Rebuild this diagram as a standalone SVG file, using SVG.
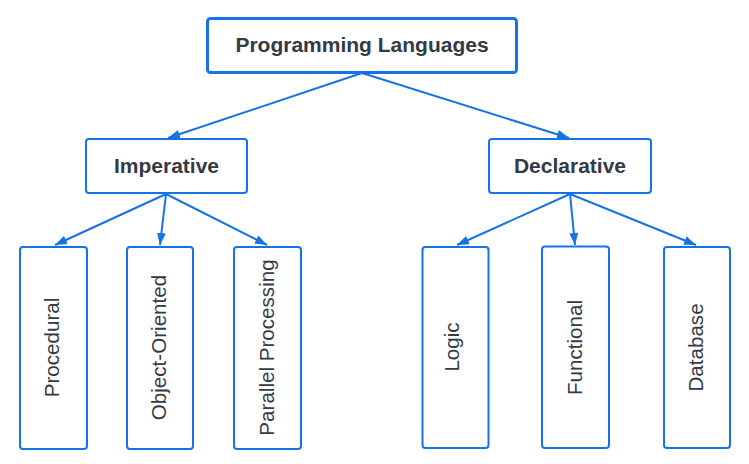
<svg xmlns="http://www.w3.org/2000/svg" width="749" height="464" viewBox="0 0 749 464">
<defs>
<marker id="ah" markerUnits="userSpaceOnUse" markerWidth="14" markerHeight="10" refX="12" refY="5" orient="auto">
<path d="M0,0.5 L12,5 L0,9.5 Z" fill="#1473e6"/>
</marker>
<style>
.box{fill:#fff;stroke:#1473e6;stroke-width:2}
.top{stroke-width:3}
.t{font-family:"Liberation Sans",Arial,sans-serif;font-size:20.6px;fill:#333a45;text-anchor:middle}
.b{font-weight:bold;font-size:21px}
.c{stroke:#1473e6;stroke-width:2;fill:none;marker-end:url(#ah)}
</style>
</defs>
<rect width="749" height="464" fill="#fff"/>
<g id="connectors">
<line class="c" x1="362" y1="73" x2="168" y2="138"/>
<line class="c" x1="362" y1="73" x2="569" y2="138"/>
<line class="c" x1="166" y1="194" x2="55" y2="245"/>
<line class="c" x1="166" y1="194" x2="160" y2="245"/>
<line class="c" x1="166" y1="194" x2="267" y2="245"/>
<line class="c" x1="570" y1="194" x2="457" y2="245"/>
<line class="c" x1="570" y1="194" x2="575" y2="245"/>
<line class="c" x1="570" y1="194" x2="696" y2="245"/>
</g>
<g id="node-programming-languages">
<rect class="box top" x="207.5" y="18.5" width="309" height="54" rx="3"/>
<text class="t b" x="362" y="51.5">Programming Languages</text>
</g>
<g id="node-imperative">
<rect class="box" x="86" y="139" width="161" height="54" rx="3"/>
<text class="t b" x="166.5" y="173">Imperative</text>
</g>
<g id="node-declarative">
<rect class="box" x="489" y="139" width="162" height="54" rx="3"/>
<text class="t b" x="570" y="173">Declarative</text>
</g>
<g id="node-procedural">
<rect class="box" x="20" y="247" width="67" height="202" rx="3"/>
<text class="t" transform="translate(58.5,347.5) rotate(-90)">Procedural</text>
</g>
<g id="node-object-oriented">
<rect class="box" x="127" y="247" width="66" height="202" rx="3"/>
<text class="t" transform="translate(166,347.5) rotate(-90)">Object-Oriented</text>
</g>
<g id="node-parallel-processing">
<rect class="box" x="234" y="247" width="67" height="202" rx="3"/>
<text class="t" transform="translate(273.5,347.5) rotate(-90)">Parallel Processing</text>
</g>
<g id="node-logic">
<rect class="box" x="422.5" y="247" width="66" height="201" rx="3"/>
<text class="t" transform="translate(458.5,347) rotate(-90)">Logic</text>
</g>
<g id="node-functional">
<rect class="box" x="542" y="246.5" width="67" height="201.5" rx="3"/>
<text class="t" transform="translate(582,347.5) rotate(-90)">Functional</text>
</g>
<g id="node-database">
<rect class="box" x="664" y="247" width="66" height="201" rx="3"/>
<text class="t" transform="translate(703,347.5) rotate(-90)">Database</text>
</g>
</svg>
